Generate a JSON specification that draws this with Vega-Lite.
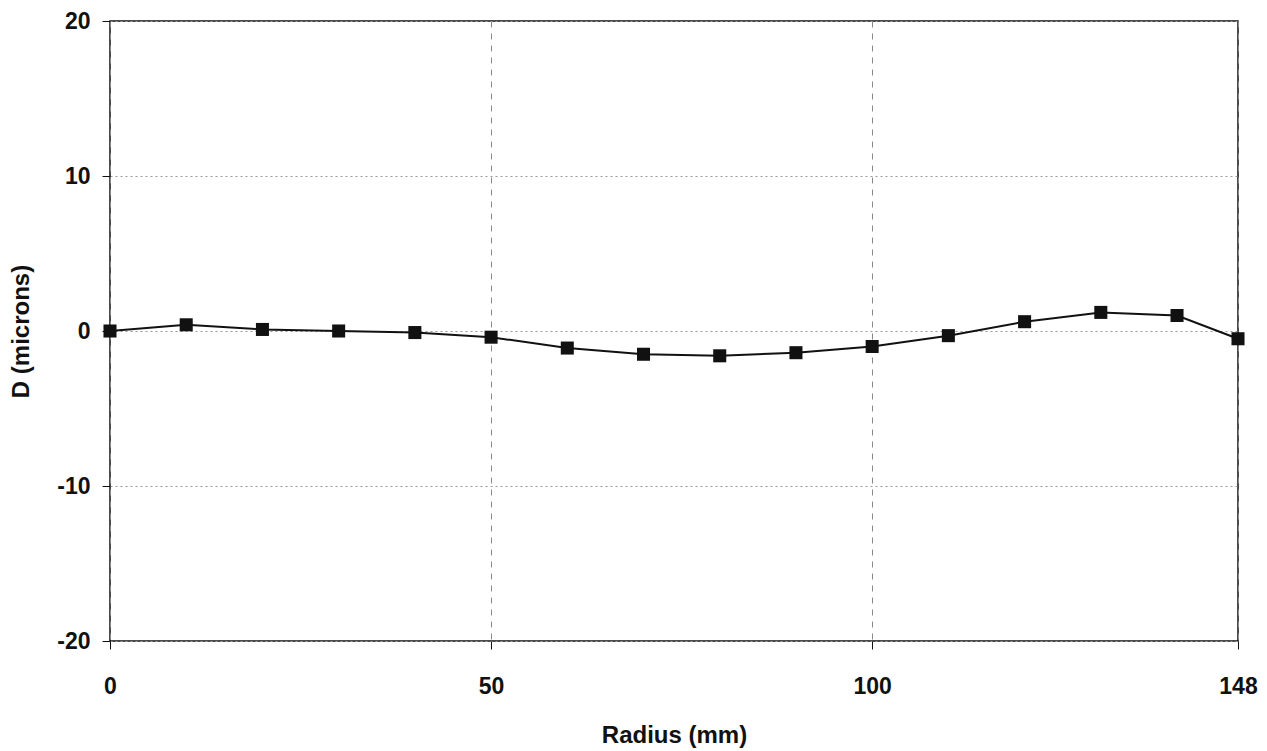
{
  "$schema": "https://vega.github.io/schema/vega-lite/v6.json",
  "autosize": "none",
  "width": 1128,
  "height": 620,
  "padding": {"left": 110, "top": 21, "right": 29, "bottom": 110},
  "background": "white",
  "config": {
    "view": {"stroke": "#111", "strokeWidth": 1.5},
    "font": "Liberation Sans"
  },
  "data": {
    "values": [
      {"radius": 0, "D": 0.0},
      {"radius": 10, "D": 0.4},
      {"radius": 20, "D": 0.1},
      {"radius": 30, "D": 0.0},
      {"radius": 40, "D": -0.1},
      {"radius": 50, "D": -0.4},
      {"radius": 60, "D": -1.1},
      {"radius": 70, "D": -1.5},
      {"radius": 80, "D": -1.6},
      {"radius": 90, "D": -1.4},
      {"radius": 100, "D": -1.0},
      {"radius": 110, "D": -0.3},
      {"radius": 120, "D": 0.6},
      {"radius": 130, "D": 1.2},
      {"radius": 140, "D": 1.0},
      {"radius": 148, "D": -0.5}
    ]
  },
  "layer": [
    {
      "mark": {"type": "line", "color": "#111", "strokeWidth": 2},
      "encoding": {
        "x": {
          "field": "radius", "type": "quantitative",
          "scale": {"domain": [0, 148], "nice": false, "zero": false},
          "axis": {
            "values": [0, 50, 100, 148],
            "labelExpr": "'' + datum.value",
            "labelFlush": false,
            "title": "Radius (mm)",
            "titleFont": "Liberation Sans", "titleFontSize": 24, "titleFontWeight": "bold", "titleColor": "#111",
            "titlePadding": 25,
            "labelFont": "Liberation Sans", "labelFontSize": 23, "labelFontWeight": "bold", "labelColor": "#111",
            "labelPadding": 26,
            "domain": false,
            "ticks": true, "tickColor": "#111", "tickSize": 8,
            "grid": true, "gridColor": "#888", "gridDash": [6, 6], "gridWidth": 1
          }
        },
        "y": {
          "field": "D", "type": "quantitative",
          "scale": {"domain": [-20, 20], "nice": false},
          "axis": {
            "values": [-20, -10, 0, 10, 20],
            "labelExpr": "'' + datum.value",
            "title": "D (microns)",
            "titleFont": "Liberation Sans", "titleFontSize": 24, "titleFontWeight": "bold", "titleColor": "#111",
            "titlePadding": 23,
            "labelFont": "Liberation Sans", "labelFontSize": 23, "labelFontWeight": "bold", "labelColor": "#111",
            "labelPadding": 12,
            "domain": false,
            "ticks": true, "tickColor": "#111", "tickSize": 8,
            "grid": true, "gridColor": "#999", "gridDash": [2, 3], "gridWidth": 1
          }
        }
      }
    },
    {
      "mark": {"type": "point", "shape": "square", "filled": true, "color": "#111", "size": 170, "opacity": 1},
      "encoding": {
        "x": {"field": "radius", "type": "quantitative"},
        "y": {"field": "D", "type": "quantitative"}
      }
    }
  ]
}
